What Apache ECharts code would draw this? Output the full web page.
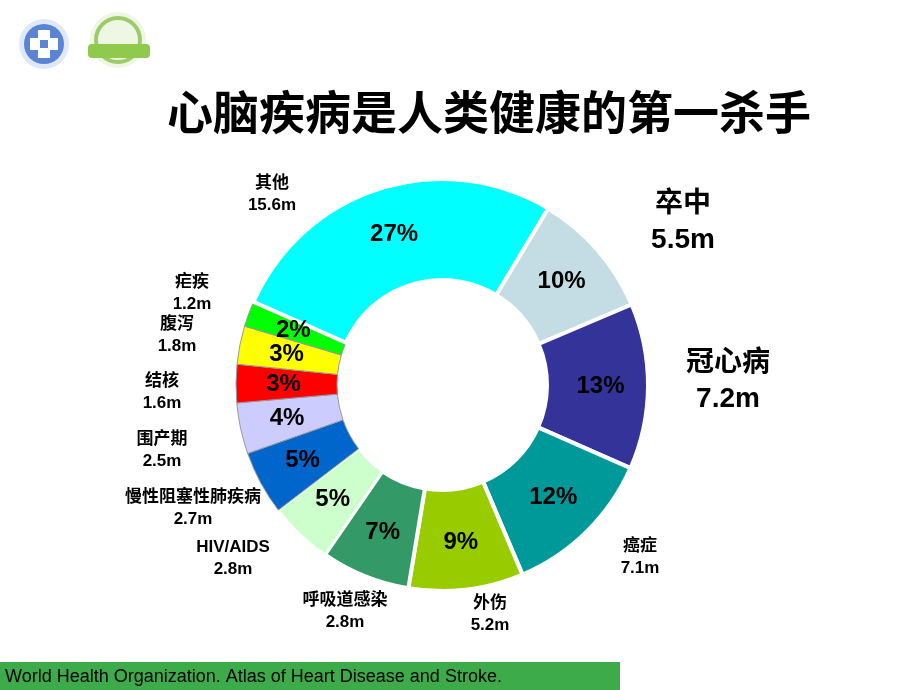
<!DOCTYPE html>
<html>
<head>
<meta charset="utf-8">
<script src="https://cdn.jsdelivr.net/npm/echarts@6/dist/echarts.min.js"></script>
<style>html,body{margin:0;padding:0;background:#fff;}#c{width:920px;height:690px;}</style>
</head>
<body>
<div id="c"></div>
<script>
var names = ['卒中','冠心病','癌症','外伤','呼吸道感染','HIV/AIDS','慢性阻塞性肺疾病','围产期','结核','腹泻','疟疾','其他'];
var percents = [10,13,12,9,7,5,5,4,3,3,2,27];
var deaths = ['5.5m','7.2m','7.1m','5.2m','2.8m','2.8m','2.7m','2.5m','1.6m','1.8m','1.2m','15.6m'];
var colors = ['#c4dde4','#333399','#009999','#99cc00','#339966','#ccffcc','#0066cc','#ccccff','#ff0000','#ffff00','#00ff00','#00ffff'];
var borderW = [4,4,4,4,4,2,1,1,1,1,1,4];
var borderC = ['#fff','#fff','#fff','#fff','#fff','#fff','#999','#999','#999','#999','#999','#fff'];
// label anchor positions (centre of text block) and font size
var labelPos = [[683,222,28],[728,381,28],[640,557,17],[490,614,17],[345,611,17],[233,558,17],[193,508,17],[162,450,17],[162,392,17],[177,335,17],[192,293,17],[272,194,17]];

var chart = echarts.init(document.getElementById('c'));
var data = names.map(function(n,i){
  return {name:n, value:percents[i], itemStyle:{color:colors[i], borderColor:borderC[i], borderWidth:borderW[i]}};
});
var graphics = [];
// logos (approximate)
graphics.push({type:'circle', shape:{cx:44,cy:44,r:25}, style:{fill:'#dfe8f8'}});
graphics.push({type:'circle', shape:{cx:44,cy:44,r:20}, style:{fill:'#5b83d6'}});
graphics.push({type:'rect', shape:{x:30,y:38,width:28,height:12}, style:{fill:'#fff'}});
graphics.push({type:'rect', shape:{x:38,y:30,width:12,height:28}, style:{fill:'#fff'}});
graphics.push({type:'rect', shape:{x:40,y:40,width:8,height:8}, style:{fill:'#5b83d6'}});
graphics.push({type:'circle', shape:{cx:118,cy:40,r:28}, style:{fill:'#eef6e4'}});
graphics.push({type:'circle', shape:{cx:118,cy:40,r:22}, style:{fill:'none', stroke:'#9ccc6a', lineWidth:4}});
graphics.push({type:'rect', shape:{x:88,y:44,width:62,height:14, r:4}, style:{fill:'#8fca4c'}});
// outside labels
names.forEach(function(n,i){
  var p = labelPos[i];
  graphics.push({type:'text', x:p[0], y:p[1], style:{text:n+'\n'+deaths[i], fill:'#000', font:'bold '+p[2]+'px "Liberation Sans", "Noto Sans CJK SC", sans-serif', align:'center', verticalAlign:'middle', lineHeight:p[2]===28?36:22}});
});
// footer
graphics.push({type:'rect', shape:{x:0,y:662,width:620,height:28}, style:{fill:'#3dab49'}});
graphics.push({type:'text', x:5, y:677, style:{text:'World Health Organization. Atlas of Heart Disease and Stroke.', fill:'#000', font:'18px "Liberation Sans", Arial, sans-serif', verticalAlign:'middle'}});

chart.setOption({
  animation:false,
  backgroundColor:'#fff',
  title:{text:'心脑疾病是人类健康的第一杀手', left:484, top:84, textAlign:'center',
    textStyle:{fontSize:46, fontWeight:'bold', color:'#000', fontFamily:'"Noto Sans CJK SC", sans-serif'}},
  series:[{
    type:'pie',
    center:[442,385],
    radius:[105,206],
    startAngle:59,
    clockwise:true,
    avoidLabelOverlap:false,
    label:{show:true, position:'inside', formatter:'{c}%', color:'#000', fontSize:24, fontWeight:'bold', fontFamily:'"Liberation Sans", Arial, sans-serif'},
    labelLine:{show:false},
    emphasis:{disabled:true},
    data:data
  }],
  graphic:graphics
});
</script>
</body>
</html>
